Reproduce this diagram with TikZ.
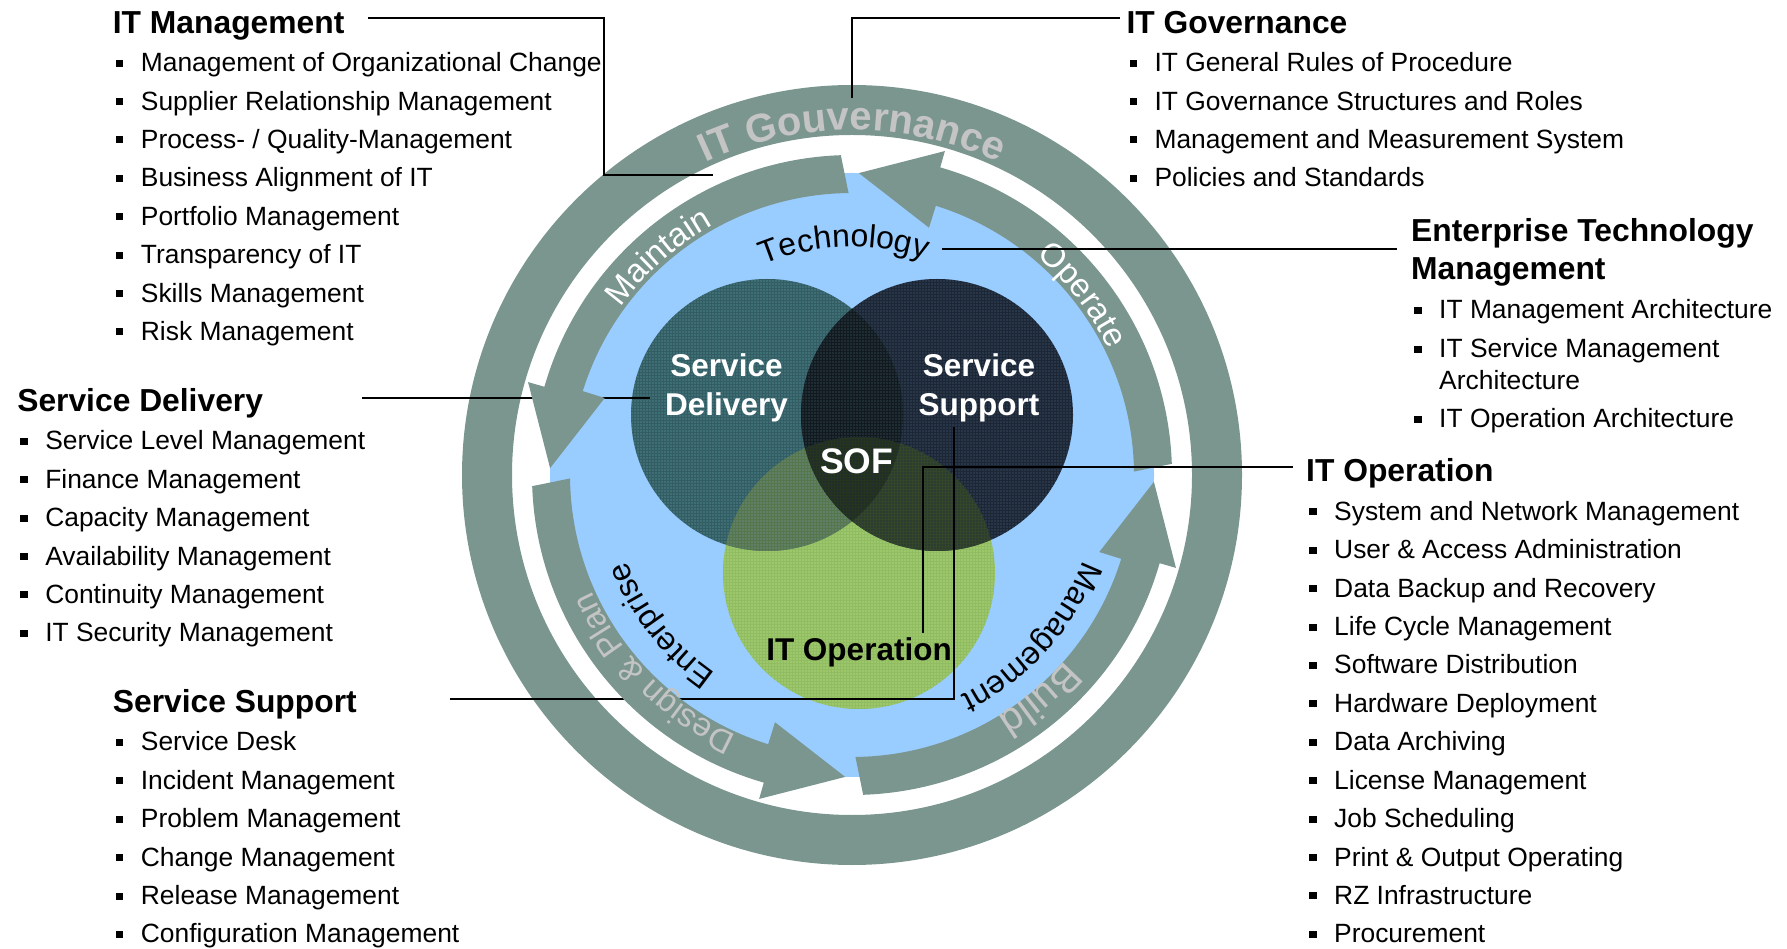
\documentclass[tikz,border=0pt]{standalone}
\usepackage{fontspec}
\setmainfont{Liberation Sans}
\usetikzlibrary{decorations.text}
\definecolor{ringcol}{RGB}{122,150,143}
\definecolor{lightgr}{RGB}{196,196,196}
\definecolor{diskblue}{RGB}{153,204,255}
\definecolor{sdcol}{RGB}{62,110,118}
\definecolor{sscol}{RGB}{40,54,74}
\definecolor{gcol}{RGB}{158,199,108}
\definecolor{gline}{RGB}{120,170,80}
\definecolor{sdss}{RGB}{30,44,52}
\definecolor{sdg}{RGB}{95,128,100}
\definecolor{ssg}{RGB}{45,60,48}
\definecolor{sdssg}{RGB}{32,45,40}
\newcommand\myfs[1]{\fontsize{#1}{#1}\selectfont}
\newcommand\bul{\makebox[28pt][l]{\hspace{3pt}\rule[5pt]{7.5pt}{7pt}}}
\newcommand\arclab[5]{\path[decorate,decoration={text along path,text align=center,text color=#1,text={|#2|#5}}] ({#3+45}:#4) arc[start angle={#3+45},end angle={#3-45},radius=#4];}
\begin{document}
\begin{tikzpicture}[x=1pt,y=1pt,
  heading/.style={anchor=base west,font={\myfs{31.8}\bfseries},inner sep=0pt},
  listitem/.style={anchor=base west,font={\myfs{26.4}},inner sep=0pt},
  conn/.style={line width=1.6pt,black},
  vlabel/.style={anchor=base,font={\myfs{31.5}\bfseries},inner sep=0pt},
  texture/.style={step=3,line width=0.5pt}]
\useasboundingbox (0,0) rectangle (1787,948);
\coordinate (C) at (852,473);
\coordinate (SDc) at (767,533);
\coordinate (SSc) at (937,533);
\coordinate (Gc) at (859,375);
% outer ring and disk
\fill[ringcol,even odd rule] (C) circle[radius=390] (C) circle[radius=340];
\fill[diskblue] (C) circle[radius=302];
% venn circles
\fill[gcol] (Gc) circle[radius=136];
\fill[sdcol] (SDc) circle[radius=136];
\fill[sscol] (SSc) circle[radius=136];
\begin{scope}\clip (SDc) circle[radius=136]; \fill[sdg] (Gc) circle[radius=136]; \end{scope}
\begin{scope}\clip (SSc) circle[radius=136]; \fill[ssg] (Gc) circle[radius=136]; \end{scope}
\begin{scope}\clip (SDc) circle[radius=136]; \fill[sdss] (SSc) circle[radius=136]; \end{scope}
\begin{scope}\clip (SDc) circle[radius=136]; \clip (SSc) circle[radius=136]; \fill[sdssg] (Gc) circle[radius=136]; \end{scope}
% fine grid texture of the circles
\begin{scope}\clip (Gc) circle[radius=136]; \draw[texture,gline,opacity=0.35] (723,239) grid (995,511); \end{scope}
\begin{scope}\clip (SDc) circle[radius=136]; \draw[texture,black,opacity=0.16] (631,397) grid (903,669); \end{scope}
\begin{scope}\clip (SSc) circle[radius=136]; \draw[texture,black,opacity=0.28] (801,397) grid (1073,669); \end{scope}
% connectors under the arrows
\coordinate (sdA) at (362,550); \coordinate (sdB) at (650,550);
\coordinate (ssA) at (450,249); \coordinate (ssK) at (954,249); \coordinate (ssB) at (954,521);
\draw[conn] (sdA) -- (sdB);
\draw[conn] (ssA) -- (ssK) -- (ssB);
% arrows
\begin{scope}[shift={(C)}]
\foreach \b in {0,90,180,270}{
  \fill[ringcol] ({\b+2}:320) arc[start angle={\b+2},end angle={\b+74},radius=320]
    -- ({\b+74}:337) -- ({\b+88.7}:302) -- ({\b+72.7}:259) -- ({\b+72.7}:282)
    arc[start angle={\b+72.7},end angle={\b+0.7},radius=282] -- cycle;
}
\arclab{lightgr}{\myfs{40}\bfseries}{90}{345}{IT Gouvernance}
\arclab{white}{\myfs{33}}{131.6}{286}{Maintain}
\arclab{white}{\myfs{33}}{38}{286}{Operate}
\arclab{lightgr}{\myfs{33}}{225}{285}{Design {\&} Plan}
\arclab{lightgr}{\myfs{40}}{310}{282}{Build}
\arclab{black}{\myfs{32}}{92}{228}{Technology}
\arclab{black}{\myfs{32}}{218.2}{241}{Enterprise}
\arclab{black}{\myfs{32}}{318}{246}{Management}
\end{scope}
% circle labels
\node[vlabel,white] (sd1) at (726.5,571) {Service};
\node[vlabel,white] (sd2) at (726.5,532) {Delivery};
\node[vlabel,white] (ss1) at (979,571) {Service};
\node[vlabel,white] (ss2) at (979,532) {Support};
\node[vlabel,white,font={\myfs{35.5}\bfseries}] (sof) at (856.5,474.5) {SOF};
\node[vlabel,black] (ito) at (859,287) {IT Operation};
% other connectors
\coordinate (itmA) at (368,930); \coordinate (itmK) at (604,773); \coordinate (itmB) at (713,773);
\coordinate (itgA) at (1120,930); \coordinate (itgB) at (852,850);
\coordinate (etmA) at (1397,699); \coordinate (etmB) at (942,699);
\coordinate (itoA) at (1293,481); \coordinate (itoB) at (923,315);
\draw[conn] (itmA) -| (itmK) -- (itmB);
\draw[conn] (itgA) -| (itgB);
\draw[conn] (etmA) -- (etmB);
\draw[conn] (itoA) -| (itoB);
% lists
\node[heading] (hitm) at (112.7,914.7) {IT Management};
\foreach \t [count=\i] in {Management of Organizational Change,Supplier Relationship Management,Process- / Quality-Management,Business Alignment of IT,Portfolio Management,Transparency of IT,Skills Management,Risk Management}
  \node[listitem] (itm\i) at (112.7,{914.7-38.4*\i}) {\bul\t};
\node[heading] (hsd) at (17.1,536.5) {Service Delivery};
\foreach \t [count=\i] in {Service Level Management,Finance Management,Capacity Management,Availability Management,Continuity Management,IT Security Management}
  \node[listitem] (sdi\i) at (17.1,{536.5-38.4*\i}) {\bul\t};
\node[heading] (hss) at (112.7,235.5) {Service Support};
\foreach \t [count=\i] in {Service Desk,Incident Management,Problem Management,Change Management,Release Management,Configuration Management}
  \node[listitem] (ssi\i) at (112.7,{235.5-38.4*\i}) {\bul\t};
\node[heading] (hitg) at (1126.3,914.7) {IT Governance};
\foreach \t [count=\i] in {IT General Rules of Procedure,IT Governance Structures and Roles,Management and Measurement System,Policies and Standards}
  \node[listitem] (itg\i) at (1126.3,{914.7-38.4*\i}) {\bul\t};
\node[heading] (hetm1) at (1411,706.2) {Enterprise Technology};
\node[heading] (hetm2) at (1411,668.5) {Management};
\node[listitem] (etm1) at (1411,629) {\bul IT Management Architecture};
\node[listitem] (etm2) at (1411,590.4) {\bul IT Service Management};
\node[listitem] (etm2b) at (1439,558.8) {Architecture};
\node[listitem] (etm3) at (1411,520.1) {\bul IT Operation Architecture};
\node[heading] (hito) at (1306,466) {IT Operation};
\foreach \t [count=\i] in {System and Network Management,User \& Access Administration,Data Backup and Recovery,Life Cycle Management,Software Distribution,Hardware Deployment,Data Archiving,License Management,Job Scheduling,Print \& Output Operating,RZ Infrastructure,Procurement}
  \node[listitem] (itoi\i) at (1306,{466-38.4*\i}) {\bul\t};
\end{tikzpicture}
\end{document}
